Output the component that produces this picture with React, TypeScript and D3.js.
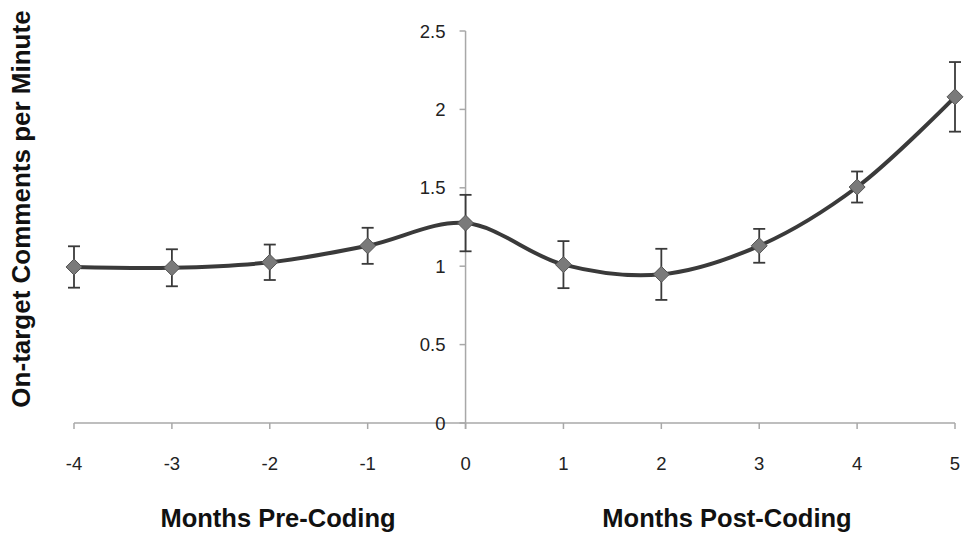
import React from "react";
import * as d3 from "d3";

const months = [-4, -3, -2, -1, 0, 1, 2, 3, 4, 5];
const values = [0.995, 0.99, 1.025, 1.13, 1.275, 1.01, 0.948, 1.13, 1.505, 2.08];
const errors = [0.132, 0.118, 0.113, 0.115, 0.18, 0.15, 0.163, 0.108, 0.099, 0.222];
const yTicks = [0, 0.5, 1, 1.5, 2, 2.5];
const yTickLabels = ["0", "0.5", "1", "1.5", "2", "2.5"];
const xTickLabels = ["-4", "-3", "-2", "-1", "0", "1", "2", "3", "4", "5"];
const yTitle = "On-target Comments per Minute";
const xTitles = ["Months Pre-Coding", "Months Post-Coding"];

export default function App() {
  const W = 966, H = 535;
  const x = d3.scaleLinear().domain([-4, 5]).range([74, 955]);
  const y = d3.scaleLinear().domain([0, 2.5]).range([423, 31]);
  const pts = months.map((m, i) => [x(m), y(values[i])] as [number, number]);
  const line = d3.line().curve(d3.curveCatmullRom.alpha(0.5))(pts) || "";
  const font = "Liberation Sans, Arial, Helvetica, sans-serif";
  const axisColor = "#a8a8a8";
  const ds = 8;
  return (
    <svg width={W} height={H} style={{ position: "absolute", left: 0, top: 0, background: "#fff" }}>
      <rect width={W} height={H} fill="#fff" />
      {/* x axis */}
      <line x1={x(-4)} x2={x(5)} y1={y(0)} y2={y(0)} stroke={axisColor} strokeWidth={1.5} />
      {months.map((m) => (
        <line key={"xt" + m} x1={x(m)} x2={x(m)} y1={y(0)} y2={y(0) + 6} stroke={axisColor} strokeWidth={1.5} />
      ))}
      {/* y axis */}
      <line x1={x(0)} x2={x(0)} y1={y(2.5)} y2={y(0) + 6} stroke={axisColor} strokeWidth={1.5} />
      {yTicks.map((t) => (
        <line key={"yt" + t} x1={x(0) - 6} x2={x(0)} y1={y(t)} y2={y(t)} stroke={axisColor} strokeWidth={1.5} />
      ))}
      {yTicks.map((t, i) => (
        <text key={"yl" + t} x={x(0) - 20} y={y(t) + 6.5} textAnchor="end" fontFamily={font} fontSize={18.5} fill="#222">
          {yTickLabels[i]}
        </text>
      ))}
      {months.map((m, i) => (
        <text key={"xl" + m} x={x(m)} y={470} textAnchor="middle" fontFamily={font} fontSize={18.5} fill="#222">
          {xTickLabels[i]}
        </text>
      ))}
      {/* line */}
      <path d={line} fill="none" stroke="#3a3a3a" strokeWidth={4} />
      {/* error bars */}
      {months.map((m, i) => {
        const cx = x(m);
        const t = y(values[i] + errors[i]);
        const b = y(values[i] - errors[i]);
        return (
          <g key={"eb" + m} stroke="#3a3a3a" strokeWidth={1.8}>
            <line x1={cx} x2={cx} y1={t} y2={b} />
            <line x1={cx - 6} x2={cx + 6} y1={t} y2={t} />
            <line x1={cx - 6} x2={cx + 6} y1={b} y2={b} />
          </g>
        );
      })}
      {/* markers */}
      {pts.map(([px, py], i) => (
        <path
          key={"mk" + i}
          d={`M${px},${py - ds}L${px + ds},${py}L${px},${py + ds}L${px - ds},${py}Z`}
          fill="#7a7a7a"
          stroke="#555"
          strokeWidth={1}
        />
      ))}
      {/* titles */}
      <text
        transform={`translate(30,${209}) rotate(-90)`}
        textAnchor="middle"
        fontFamily={font}
        fontWeight="bold"
        fontSize={26}
        fill="#111"
      >
        {yTitle}
      </text>
      <text x={278} y={527} textAnchor="middle" fontFamily={font} fontWeight="bold" fontSize={25.5} fill="#111">
        {xTitles[0]}
      </text>
      <text x={727} y={527} textAnchor="middle" fontFamily={font} fontWeight="bold" fontSize={25.5} fill="#111">
        {xTitles[1]}
      </text>
    </svg>
  );
}
